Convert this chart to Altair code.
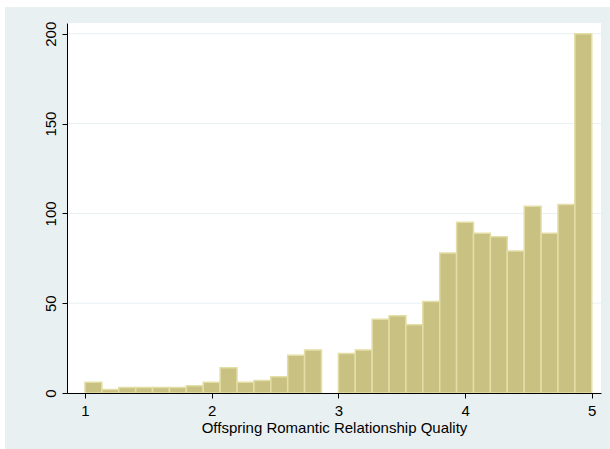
import altair as alt
import pandas as pd

# Histogram of 30 equal-width bins on [1, 5]
bin_lo = 1.0
bin_hi = 5.0
counts = [6, 2, 3, 3, 3, 3, 4, 6, 14, 6, 7, 9, 21, 24, 0,
          22, 24, 41, 43, 38, 51, 78, 95, 89, 87, 79, 104, 89, 105, 200]
x_ticks = [1, 2, 3, 4, 5]
y_ticks = [0, 50, 100, 150, 200]
x_title = "Offspring Romantic Relationship Quality"

W, H = 534, 370
FONT = "Liberation Sans"
BAR_FILL = "#c9c181"
BAR_EDGE = "#e3dea6"
FRAME = "#e8f0f2"

n = len(counts)
step = (bin_hi - bin_lo) / n
bars_df = pd.DataFrame({
    "start": [bin_lo + i * step for i in range(n)],
    "end": [bin_lo + (i + 1) * step for i in range(n)],
    "count": counts,
})
bars_df = bars_df[bars_df["count"] > 0]

x_scale = alt.Scale(domain=[0.858, 5.073], nice=False, zero=False)
y_scale = alt.Scale(domain=[0, 206], nice=False)

x_axis = alt.Axis(
    values=x_ticks, format="d", labelAngle=0, labelPadding=5, tickSize=5,
    labelFont=FONT, labelFontSize=15, labelColor="black",
    title=x_title, titleFont=FONT, titleFontSize=15, titleFontWeight="normal",
    titleColor="black", titleBaseline="alphabetic", titleY=39,
    domainColor="black", tickColor="black", domainWidth=1, tickWidth=1,
    grid=False, zindex=1, labelFlush=False,
)
y_axis = alt.Axis(
    values=y_ticks, labelAngle=270, labelAlign="center", labelBaseline="alphabetic",
    labelPadding=7, tickSize=5, labelFont=FONT, labelFontSize=15, labelColor="black",
    domainColor="black", tickColor="black", domainWidth=1, tickWidth=1,
    grid=False, title=None, zindex=1, labelFlush=False, labelOverlap=False,
)

one_row = alt.Data(values=[{}])

# light graph region behind everything
outer = alt.Chart(one_row).mark_rect(color=FRAME).encode(
    x=alt.value(-62), x2=alt.value(W + 9),
    y=alt.value(-16), y2=alt.value(H + 56),
)
# white plot region
inner = alt.Chart(one_row).mark_rect(color="white").encode(
    x=alt.value(0), x2=alt.value(W),
    y=alt.value(0), y2=alt.value(H),
)

# horizontal grid lines, drawn beneath the bars
grid = alt.Chart(pd.DataFrame({"v": y_ticks[1:]})).mark_rule(
    color=FRAME, strokeWidth=1
).encode(y=alt.Y("v:Q", scale=y_scale, axis=y_axis))

bars = alt.Chart(bars_df).mark_rect(
    fill=BAR_FILL, stroke=BAR_EDGE, strokeWidth=1.5
).encode(
    x=alt.X("start:Q", scale=x_scale, axis=x_axis),
    x2="end:Q",
    y=alt.Y("count:Q", scale=y_scale, axis=y_axis),
    y2=alt.datum(0),
)

chart = alt.layer(outer, inner, grid, bars).properties(
    width=W, height=H,
    autosize=alt.AutoSizeParams(type="none"),
    padding={"left": 67, "top": 23, "right": 9, "bottom": 56},
    background="white",
).configure_view(strokeWidth=0)

chart.save("out.html", embed_options={"renderer": "svg", "actions": False})
